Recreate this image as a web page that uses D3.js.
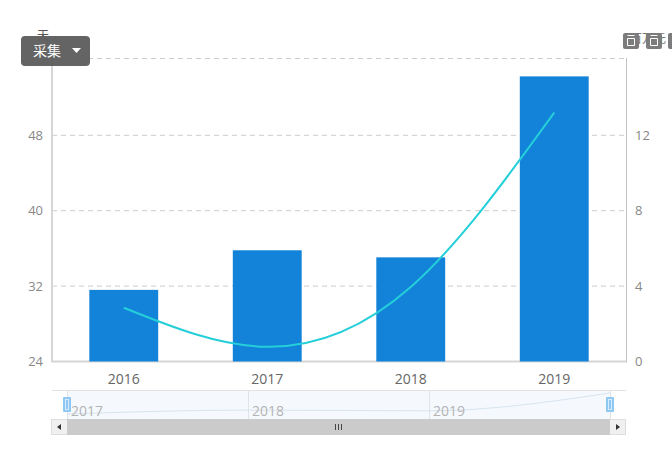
<!DOCTYPE html>
<html>
<head>
<meta charset="utf-8">
<script src="https://cdn.jsdelivr.net/npm/d3@7"></script>
<style>
body { margin: 0; background: #fff; }
text { font-family: "Open Sans", "Noto Sans CJK SC", sans-serif; }
</style>
</head>
<body>
<svg width="672" height="449" style="display:block"></svg>
<script>
const years = ["2016", "2017", "2018", "2019"];
const barValues = [31.6, 35.8, 35.05, 54.25];
const lineValues = [2.85, 0.78, 3.95, 13.2];
const leftTicks = [24, 32, 40, 48];
const rightTicks = [0, 4, 8, 12];
const sliderLabels = ["2017", "2018", "2019"];

const svg = d3.select("svg");
const plotLeft = 52, plotRight = 626, plotTop = 58, plotBottom = 361.5;

const x = d3.scaleBand().domain(years).range([plotLeft, plotRight]).paddingInner(0.52).paddingOuter(0.26);
const yLeft = d3.scaleLinear().domain([24, 48]).range([plotBottom, 135.3]);
const yRight = d3.scaleLinear().domain([0, 12]).range([plotBottom, 135.3]);

// grid
svg.append("g").selectAll("line")
    .data(rightTicks.slice(1))
    .enter().append("line")
    .attr("x1", plotLeft).attr("x2", plotRight)
    .attr("y1", d => yRight(d)).attr("y2", d => yRight(d))
    .attr("stroke", "#ccc").attr("stroke-dasharray", "5,4");
svg.append("line")
    .attr("x1", plotLeft).attr("x2", plotRight)
    .attr("y1", plotTop + .5).attr("y2", plotTop + .5)
    .attr("stroke", "#ccc").attr("stroke-dasharray", "5,4");

// axis lines
svg.append("path")
    .attr("d", `M${plotLeft},${plotTop}V${plotBottom}H${plotRight}`)
    .attr("fill", "none").attr("stroke", "#d6d6d6").attr("stroke-width", 2);
svg.append("line")
    .attr("x1", plotRight + .5).attr("x2", plotRight + .5)
    .attr("y1", plotTop).attr("y2", plotBottom + 1)
    .attr("stroke", "#c4c4c4");

// bars
svg.append("g").selectAll("rect")
    .data(years)
    .enter().append("rect")
    .attr("x", d => x(d))
    .attr("width", x.bandwidth())
    .attr("y", (d, i) => yLeft(barValues[i]))
    .attr("height", (d, i) => plotBottom - yLeft(barValues[i]))
    .attr("fill", "#1283d8");

// line
const line = d3.line()
    .x((d, i) => x(years[i]) + x.bandwidth() / 2)
    .y(d => yRight(d))
    .curve(d3.curveNatural);
svg.append("path")
    .datum(lineValues)
    .attr("d", line)
    .attr("fill", "none").attr("stroke", "#25cfd9").attr("stroke-width", 2);

// axis labels
svg.append("g").selectAll("text")
    .data(leftTicks)
    .enter().append("text")
    .attr("x", 43).attr("y", d => yLeft(d) + 4.5)
    .attr("text-anchor", "end").attr("font-size", 13).attr("fill", "#888")
    .text(d => d);
svg.append("g").selectAll("text")
    .data(rightTicks)
    .enter().append("text")
    .attr("x", 635).attr("y", d => yRight(d) + 4.5)
    .attr("font-size", 13).attr("fill", "#888")
    .text(d => d);
svg.append("g").selectAll("text")
    .data(years)
    .enter().append("text")
    .attr("x", d => x(d) + x.bandwidth() / 2).attr("y", 384)
    .attr("text-anchor", "middle").attr("font-size", 14).attr("fill", "#666")
    .text(d => d);

// axis names
svg.append("text").attr("x", 43).attr("y", 40).attr("text-anchor", "middle")
    .attr("font-size", 12).attr("fill", "#555").text("天");
svg.append("text").attr("x", 648).attr("y", 43).attr("text-anchor", "middle")
    .attr("font-size", 12).attr("fill", "#777").text("百万元");

// data zoom
const sx = d3.scalePoint().domain(years).range([67, 610]);
const slideY = d3.scaleLinear().domain([31.6, 54.25]).range([414, 393]);
svg.append("rect").attr("x", 67).attr("y", 391).attr("width", 543).attr("height", 28).attr("fill", "#f5f9fd");
svg.append("line").attr("x1", 52).attr("x2", 626).attr("y1", 390.5).attr("y2", 390.5).attr("stroke", "#e2e2e2");
svg.append("g").selectAll("line")
    .data(years)
    .enter().append("line")
    .attr("x1", d => sx(d) + .5).attr("x2", d => sx(d) + .5)
    .attr("y1", 391).attr("y2", 419)
    .attr("stroke", "#e0e4e8");
svg.append("path")
    .datum(barValues)
    .attr("d", d3.line().x((d, i) => sx(years[i])).y(d => slideY(d)).curve(d3.curveMonotoneX))
    .attr("fill", "none").attr("stroke", "#d8e4ee");
svg.append("g").selectAll("text")
    .data(sliderLabels)
    .enter().append("text")
    .attr("x", (d, i) => sx(years[i]) + 4).attr("y", 415.5)
    .attr("font-size", 14).attr("fill", "#b4b4b4")
    .text(d => d);

// slider handles
svg.append("g").selectAll("rect")
    .data([years[0], years[3]])
    .enter().append("rect")
    .attr("x", d => sx(d) - 4).attr("y", 397).attr("width", 8).attr("height", 15)
    .attr("rx", 1).attr("fill", "#8fc8f2");
svg.append("g").selectAll("rect")
    .data([years[0], years[3]])
    .enter().append("rect")
    .attr("x", d => sx(d) - 1.5).attr("y", 399.5).attr("width", 3).attr("height", 10)
    .attr("fill", "none").attr("stroke", "#d6ebfb");

// scrollbar
svg.append("rect").attr("x", 51.5).attr("y", 419.5).attr("width", 574).attr("height", 15)
    .attr("fill", "#f0f0f0").attr("stroke", "#ddd");
svg.append("rect").attr("x", 67).attr("y", 419).attr("width", 543).attr("height", 16).attr("fill", "#cbcbcb");
svg.append("path").attr("d", "M61,424v6l-4,-3z").attr("fill", "#333");
svg.append("path").attr("d", "M616,424v6l4,-3z").attr("fill", "#333");
svg.append("path").attr("d", "M335.5,424v6M338.5,424v6M341.5,424v6").attr("stroke", "#444");

// export button
svg.append("rect").attr("x", 21).attr("y", 36).attr("width", 69).attr("height", 30).attr("rx", 4).attr("fill", "#5c5c5c").attr("fill-opacity", 0.95);
svg.append("text").attr("x", 33).attr("y", 56).attr("font-size", 14).attr("fill", "#fff").text("采集");
svg.append("path").attr("d", "M72,48h9l-4.5,5z").attr("fill", "#fff");

// toolbox icons
svg.append("g").selectAll("rect")
    .data([623, 646, 668])
    .enter().append("rect")
    .attr("x", d => d).attr("y", 33).attr("width", 16).attr("height", 16)
    .attr("rx", 2).attr("fill", "#7c7c7c");
svg.append("g").selectAll("path")
    .data([623, 646])
    .enter().append("path")
    .attr("d", d => `M${d + 4.5},35.5h7M${d + 4.5},38.5h7v7h-7z`)
    .attr("fill", "none").attr("stroke", "#fff");
</script>
</body>
</html>
